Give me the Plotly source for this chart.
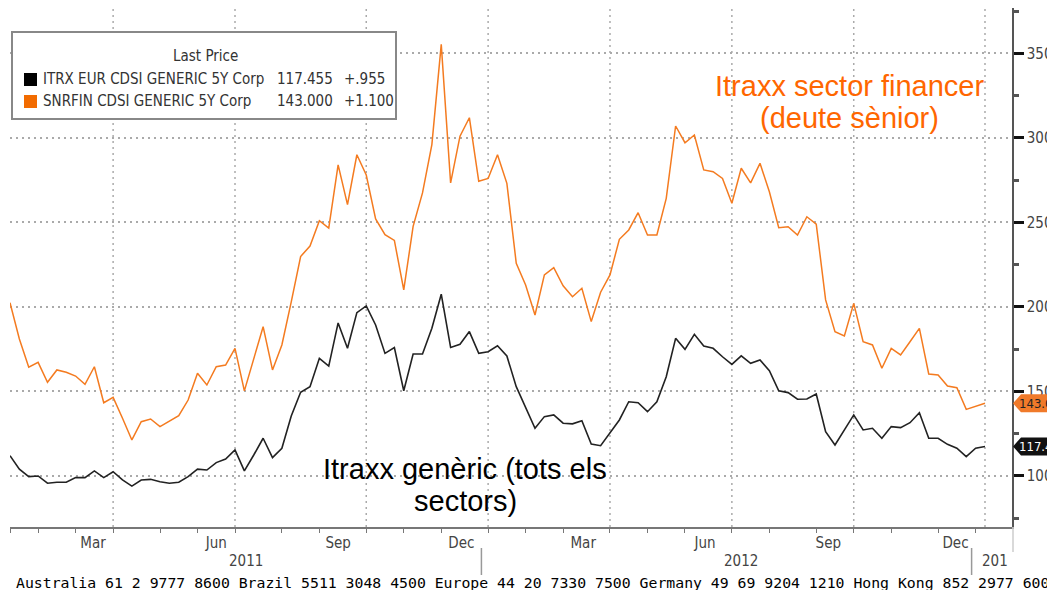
import plotly.graph_objects as go
import pandas as pd

# ---------------- data ----------------
dates = pd.date_range("2011-01-14", periods=105, freq="7D")

itrx_main = [
    112, 104, 99.6, 100, 95.7, 96.3, 96.3, 99, 99, 103,
    99, 102.5, 97.7, 94, 97.6, 98, 96.6, 95.7, 96.3, 99.6,
    104, 103.5, 107.9, 110, 115.4, 103, 112.4, 122.3, 110.9, 116.4,
    135.5, 149.5, 152.8, 169.6, 165, 190.5, 175.5, 196.6, 200.6, 189.3,
    172.5, 176, 150.4, 172.1, 172.1, 187.4, 207.5, 176, 177.9, 185.4,
    172.5, 173.5, 177, 171, 152.8, 140, 128.2, 135.1, 136.1, 131.2,
    130.8, 132.7, 118.9, 117.9, 125.2, 133.1, 143.9, 143.3, 138, 143.9,
    158.7, 181.4, 174.9, 183.8, 176.9, 175.5, 170.5, 166, 171, 166.6,
    168.6, 162.3, 150.4, 149.3, 145.4, 145.5, 148.5, 126.2, 118.3, 127.2,
    136.1, 127.2, 128.2, 122.3, 129.2, 128.6, 131.5, 137.4, 122.3, 122.3,
    118.7, 116.4, 111.4, 116.4, 117.455,
]

snrfin = [
    202.5, 181, 164.3, 167.2, 155.4, 162.7, 161.3, 159.1, 154.2, 164.6,
    143.3, 146.5, 134.1, 121.3, 132.1, 133.7, 129.2, 132.7, 135.7, 144.9,
    160.7, 153.8, 164.6, 165.6, 175.5, 150.3, 169, 188.3, 162.7, 177.5,
    203, 229.8, 236, 251, 246.6, 284, 260.5, 290, 278, 252,
    242.7, 239.3, 210, 247.6, 267.4, 296, 355.3, 273.3, 301, 311.9,
    274.3, 276, 290, 273.1, 225.8, 213, 195.2, 218.9, 223.2, 212.5,
    206, 211, 191.3, 208.7, 218.9, 240, 245.5, 255.7, 242.5, 242.5,
    264.2, 307, 297.1, 301.7, 281, 280, 276, 261.3, 282, 273.4,
    284.9, 268.1, 246.8, 247.4, 242.5, 253.3, 249, 204.1, 185.3, 182.8,
    202.1, 179.4, 177.5, 163.7, 175.5, 171.6, 179.4, 187.3, 160.3, 159.7,
    153.2, 152.2, 139.4, 141.4, 143.0,
]

series_names = ["ITRX EUR CDSI GENERIC 5Y Corp", "SNRFIN CDSI GENERIC 5Y Corp"]
last_values = ["117.455", "143.000"]
changes = ["+.955", "+1.100"]

month_label_dates = ["2011-03-17", "2011-06-17", "2011-09-16", "2011-12-17",
                     "2012-03-17", "2012-06-16", "2012-09-16", "2012-12-20"]
month_labels = ["Mar", "Jun", "Sep", "Dec", "Mar", "Jun", "Sep", "Dec"]
grid_dates = ["2011-04-01", "2011-07-01", "2011-10-07", "2012-01-06",
              "2012-04-06", "2012-07-06", "2012-10-05", "2013-01-11"]
year_label_dates = ["2011-07-09", "2012-07-13"]
year_labels = ["2011", "2012"]
year_dividers = ["2012-01-01", "2013-01-01"]
y_ticks = [100, 150, 200, 250, 300, 350]

title_fin = ["Itraxx sector financer", "(deute sènior)"]
title_gen = ["Itraxx genèric (tots els", "sectors)"]

footer = ("Australia 61 2 9777 8600 Brazil 5511 3048 4500 Europe 44 20 7330 7500 "
          "Germany 49 69 9204 1210 Hong Kong 852 2977 6000")

# month ticks: first weekly point of each month
s = pd.Series(dates)
month_ticks = list(s.groupby([s.dt.year, s.dt.month]).min())

ORANGE = "#F47B20"
BLACK = "#222222"
AXFONT = "DejaVu Sans Condensed, Liberation Sans Narrow, Arial Narrow, sans-serif"
BIGFONT = "Liberation Sans, Arial, sans-serif"

# ---------------- geometry (reference-pixel layout) ----------------
W, H = 1055, 590
OFF = 8                      # page body margin of the html page
PL, PR, PT, PB = 10, 1012, 8, 527   # plot box in window pixels
YMIN, YMAX = 69.8, 376.8


def px_x(px):
    return (px - PL) / (PR - PL)


def px_y(py):
    return (PB - py) / (PB - PT)


units_per_px = (YMAX - YMIN) / (PB - PT)

fig = go.Figure()
fig.add_trace(go.Scatter(x=dates, y=snrfin, mode="lines",
                         line=dict(color=ORANGE, width=1.5), name=series_names[1]))
fig.add_trace(go.Scatter(x=dates, y=itrx_main, mode="lines",
                         line=dict(color=BLACK, width=1.6), name=series_names[0]))

shapes = []
for d in grid_dates:
    shapes.append(dict(type="line", xref="x", yref="paper", x0=d, x1=d, y0=0, y1=1,
                       line=dict(color="#AAAAAA", width=1.5, dash="2px,4px"), layer="below"))
for d in year_dividers:
    shapes.append(dict(type="line", xref="x", yref="paper", x0=d, x1=d,
                       y0=px_y(548), y1=px_y(575), line=dict(color="#999999", width=1.5)))
# light separator below the right axis
shapes.append(dict(type="line", xref="paper", yref="paper", x0=px_x(1013), x1=px_x(1013),
                   y0=px_y(527), y1=px_y(552), line=dict(color="#CCCCCC", width=1.5)))

# legend box
shapes.append(dict(type="rect", xref="paper", yref="paper",
                   x0=px_x(12), x1=px_x(396), y0=px_y(119), y1=px_y(32),
                   fillcolor="white", line=dict(color="#888888", width=2), layer="above"))
row_y = [79, 101]
for ry, col in zip(row_y, ["#000000", "#F26B00"]):
    shapes.append(dict(type="rect", xref="paper", yref="paper",
                       x0=px_x(24), x1=px_x(37), y0=px_y(ry + 7), y1=px_y(ry - 6),
                       fillcolor=col, line=dict(width=0), layer="above"))

# last value tags
tag_half = 9 * units_per_px
for val, col in [(snrfin[-1], "#F07A2A"), (itrx_main[-1], "#111111")]:
    x_tip, x_b, x_r = px_x(1013), px_x(1021), px_x(1070)
    path = (f"M {x_tip},{val} L {x_b},{val + tag_half} L {x_r},{val + tag_half} "
            f"L {x_r},{val - tag_half} L {x_b},{val - tag_half} Z")
    shapes.append(dict(type="path", xref="paper", yref="y", path=path,
                       fillcolor=col, line=dict(width=0), layer="above"))

annotations = []
annotations.append(dict(xref="paper", yref="paper", x=px_x(205), y=px_y(56), text="Last Price",
                        showarrow=False, xanchor="center", yanchor="middle",
                        font=dict(family=AXFONT, size=15, color="#333")))
for ry, nm, lv, ch in zip(row_y, series_names, last_values, changes):
    for px, txt in [(41, nm), (275, lv), (342, ch)]:
        annotations.append(dict(xref="paper", yref="paper", x=px_x(px), y=px_y(ry), text=txt,
                                showarrow=False, xanchor="left", yanchor="middle",
                                font=dict(family=AXFONT, size=15, color="#333")))

for line_txt, cy in zip(title_fin, [86, 118]):
    annotations.append(dict(xref="paper", yref="paper", x=px_x(849), y=px_y(cy),
                            text=line_txt, showarrow=False, xanchor="center", yanchor="middle",
                            font=dict(family=BIGFONT, size=29, color="#FF6600")))
for line_txt, cy in zip(title_gen, [469, 501]):
    annotations.append(dict(xref="paper", yref="paper", x=px_x(465), y=px_y(cy),
                            text=line_txt, showarrow=False, xanchor="center", yanchor="middle",
                            font=dict(family=BIGFONT, size=29, color="#000000")))

for d, t in zip(year_label_dates, year_labels):
    annotations.append(dict(xref="x", yref="paper", x=d, y=px_y(561), text=t, showarrow=False,
                            xanchor="center", yanchor="middle",
                            font=dict(family=AXFONT, size=15, color="#444")))
annotations.append(dict(xref="x", yref="paper", x=year_dividers[-1], y=px_y(561), text="201",
                        showarrow=False, xanchor="left", xshift=8, yanchor="middle",
                        font=dict(family=AXFONT, size=15, color="#444")))

for val, txt, tc in [(snrfin[-1], "143.000", "#222"), (itrx_main[-1], "117.455", "white")]:
    annotations.append(dict(xref="paper", yref="y", x=px_x(1017), y=val, text=txt,
                            showarrow=False, xanchor="left", yanchor="middle",
                            font=dict(family=AXFONT, size=13, color=tc)))

annotations.append(dict(xref="paper", yref="paper", x=px_x(14), y=px_y(582), text=footer,
                        showarrow=False, xanchor="left", yanchor="middle",
                        font=dict(family="DejaVu Sans Mono, Liberation Mono, monospace",
                                  size=14.8, color="#000")))

fig.update_layout(
    width=W, height=H,
    margin=dict(l=PL - OFF, r=W - (PR - OFF), t=PT - OFF, b=H - (PB - OFF), autoexpand=False),
    paper_bgcolor="white", plot_bgcolor="white",
    showlegend=False,
    shapes=shapes, annotations=annotations,
    xaxis=dict(
        type="date", automargin=False,
        range=["2011-01-14", "2013-01-31 04:00"],
        tickmode="array", tickvals=month_label_dates, ticktext=month_labels,
        ticks="outside", ticklen=1, tickcolor="rgba(0,0,0,0)",
        tickfont=dict(family=AXFONT, size=15, color="#444"),
        showgrid=False, zeroline=False,
        showline=True, linecolor="#777777", linewidth=1.5,
        minor=dict(tickmode="array", tickvals=month_ticks, ticks="outside",
                   ticklen=4, tickcolor="#777777", tickwidth=1, showgrid=False),
    ),
    yaxis=dict(
        side="right", range=[YMIN, YMAX], automargin=False,
        tickmode="array", tickvals=y_ticks,
        ticks="outside", ticklen=10, tickwidth=2.5, tickcolor="#111",
        tickfont=dict(family=AXFONT, size=15, color="#444"),
        showgrid=True, gridcolor="#AAAAAA", gridwidth=1.5, griddash="2px,4px",
        zeroline=False,
        showline=True, linecolor="#555555", linewidth=1.5,
        minor=dict(dtick=25, tick0=75, ticks="outside", ticklen=5,
                   tickcolor="#555", showgrid=False),
    ),
)

fig.write_html("out.html")
